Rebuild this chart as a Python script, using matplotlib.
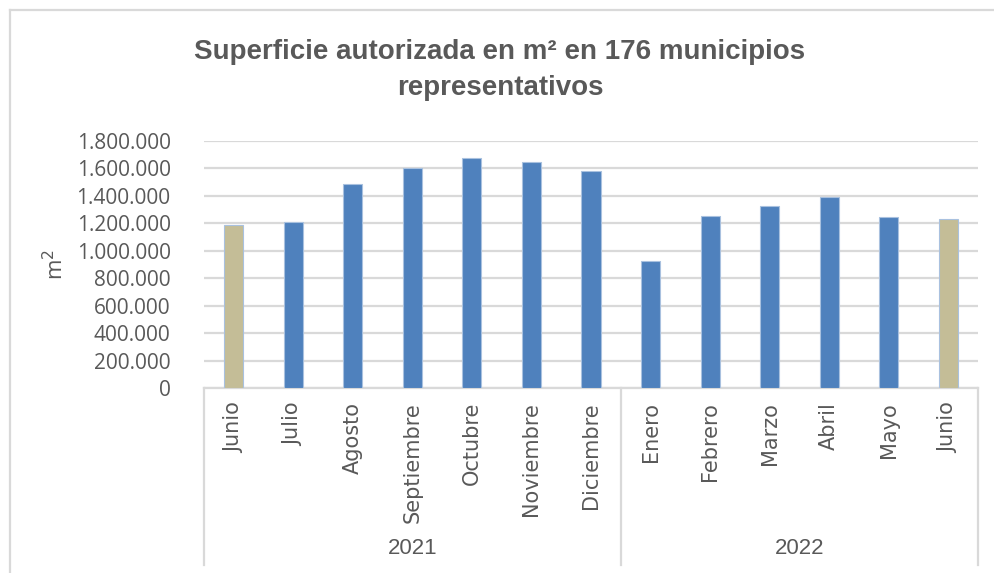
import matplotlib
matplotlib.use("Agg")
import matplotlib.pyplot as plt
from matplotlib.lines import Line2D
from matplotlib.transforms import blended_transform_factory
import numpy as np

meses = ["Junio", "Julio", "Agosto", "Septiembre", "Octubre", "Noviembre", "Diciembre",
         "Enero", "Febrero", "Marzo", "Abril", "Mayo", "Junio"]
anios = ["2021", "2022"]
meses_por_anio = [7, 6]
superficie = [1188000, 1210000, 1484000, 1600000, 1675000, 1644000, 1583000,
              928000, 1251000, 1324000, 1392000, 1244000, 1232000]

gris = "#595959"
linea = "#D9D9D9"
narrow = ["Liberation Sans Narrow", "DejaVu Sans Condensed", "Liberation Sans"]

fig = plt.figure(figsize=(9.95, 5.73), dpi=100)
ax = fig.add_axes([204 / 995, 1 - 388 / 573, 774 / 995, 247 / 573])

x = np.arange(len(meses))
colores = ["#C4BD97" if (i == 0 or i == len(meses) - 1) else "#4F81BD" for i in range(len(meses))]
ax.bar(x, superficie, width=0.32, color=colores, edgecolor="#A9C1DF", linewidth=0.8, zorder=3)

ax.set_xlim(-0.5, len(meses) - 0.5)
ax.set_ylim(0, 1800000)
yt = np.arange(0, 1800001, 200000)
ax.set_yticks(yt)
ax.set_yticklabels([f"{v:,.0f}".replace(",", ".") for v in yt],
                   fontsize=15, color=gris, family=["Open Sans", "DejaVu Sans"])
ax.grid(axis="y", color=linea, linewidth=1.6, zorder=0)
ax.tick_params(axis="y", length=0, pad=24)
ax.tick_params(axis="x", length=0, pad=10)

ax.set_xticks(x)
ax.set_xticklabels(meses, rotation=90, fontsize=15, color=gris, family="DejaVu Sans")

for s in ["left", "right", "top"]:
    ax.spines[s].set_visible(False)
ax.spines["bottom"].set_color(linea)
ax.spines["bottom"].set_linewidth(1.6)

# multi-level category axis
tr = blended_transform_factory(ax.transData, ax.transAxes)
bordes = np.concatenate([[0], np.cumsum(meses_por_anio)]) - 0.5
for b in bordes:
    ax.plot([b, b], [0, -0.717], transform=tr, color=linea, lw=1.6, clip_on=False)
for i, a in enumerate(anios):
    cx = (bordes[i] + bordes[i + 1]) / 2
    ax.text(cx, -0.648, a, transform=tr, ha="center", va="center",
            fontsize=16, color=gris, family=narrow)

ax.set_ylabel("m$^2$", fontsize=16, color=gris, family=["Open Sans", "DejaVu Sans"], labelpad=6)

fig.text(0.5025, 1 - 52 / 573, "Superficie autorizada en m² en 176 municipios",
         ha="center", va="center", fontsize=20, fontweight="bold", color=gris, family=narrow)
fig.text(0.5025, 1 - 88 / 573, "representativos",
         ha="center", va="center", fontsize=20, fontweight="bold", color=gris, family=narrow)

# chart frame
fig.add_artist(Line2D([10 / 995, 10 / 995], [0, 1 - 10 / 573], transform=fig.transFigure, color=linea, lw=1.6))
fig.add_artist(Line2D([10 / 995, 1], [1 - 10 / 573, 1 - 10 / 573], transform=fig.transFigure, color=linea, lw=1.6))

fig.savefig("out.png", dpi=100)
